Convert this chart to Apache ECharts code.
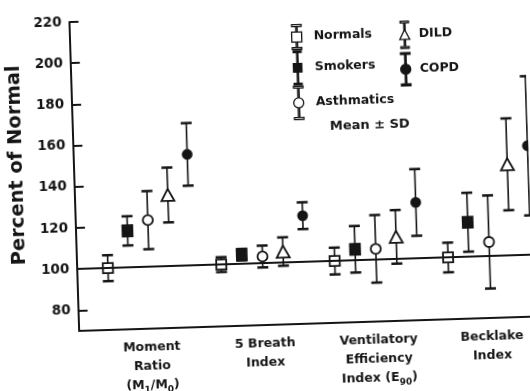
<!DOCTYPE html>
<html>
<head>
<meta charset="utf-8">
<script src="https://cdn.jsdelivr.net/npm/echarts@6/dist/echarts.min.js"></script>
<style>
html,body{margin:0;padding:0;background:#fff;overflow:hidden;}
#chart{width:530px;height:391px;transform:rotate(-1.8deg);}
</style>
</head>
<body>
<div id="chart"></div>
<script>
// categories along the x axis ({s|..} = subscript)
var categories = ['Moment\nRatio\n(M{s|1}/M{s|0})', '5 Breath\nIndex', 'Ventilatory\nEfficiency\nIndex (E{s|90})', 'Becklake\nIndex'];
var groups = ['Normals', 'Smokers', 'Asthmatics', 'DILD', 'COPD'];
// mean and SD, percent of normal
var normalsMean    = [100, 100, 100, 100];
var normalsSD      = [6.3, 3.6, 6.5, 7.2];
var smokersMean    = [117.8, 104.5, 105.4, 116.8];
var smokersSD      = [7.1, 2.8, 11.3, 14.3];
var asthmaticsMean = [122.7, 103.3, 105.3, 106.9];
var asthmaticsSD   = [14.1, 5.3, 16.4, 22.6];
var dildMean       = [134.6, 105.4, 110.8, 144.3];
var dildSD         = [13.3, 6.9, 13, 22.3];
var copdMean       = [154, 122.5, 127.2, 153];
var copdSD         = [15.2, 6.5, 16.2, 33.8];
var yTicks = [80, 100, 120, 140, 160, 180, 200, 220];
var refValue = 100;

var means = [normalsMean, smokersMean, asthmaticsMean, dildMean, copdMean];
var sds   = [normalsSD, smokersSD, asthmaticsSD, dildSD, copdSD];

var STEP = 0.1825; // offset between groups inside one category
var X_MIN = -0.27, X_MAX = 3.74;
var FONT = 'DejaVu Sans';
var INK = '#151515';

var styles = [
	{symbol: 'rect', size: [10, 10], fill: '#fff', icon: 'sq', iconH: 21},
	{symbol: 'rect', size: [10, 11], fill: INK, icon: 'sq', iconH: 34},
	{symbol: 'circle', size: 10, fill: '#fff', icon: 'ci', iconH: 28},
	{symbol: 'triangle', size: [13, 12], fill: '#fff', icon: 'tr', iconH: 26},
	{symbol: 'circle', size: 9, fill: INK, icon: 'ci', iconH: 28}
];

// legend icon: marker with its SD whiskers, 10 wide and h tall
function makeIcon(kind, h){
	var c = h / 2;
	function whisk(a, b){ return 'M4.4,' + a + 'H5.6V' + b + 'H4.4Z '; }
	var p = 'M1,0H9V1.6H1Z M1,' + (h - 1.6) + 'H9V' + h + 'H1Z ';
	if (kind === 'sq') {
		p += whisk(1.6, c - 4.2) + 'M0.8,' + (c - 4.2) + 'H9.2V' + (c + 4.2) + 'H0.8Z ' + whisk(c + 4.2, h - 1.6);
	} else if (kind === 'ci') {
		p += whisk(1.6, c - 4.2) + 'M9.2,' + c + 'A4.2,4.2,0,1,1,0.8,' + c + 'A4.2,4.2,0,1,1,9.2,' + c + 'Z ' + whisk(c + 4.2, h - 1.6);
	} else {
		p += whisk(1.6, c - 5) + 'M5,' + (c - 5) + 'L9.8,' + (c + 4.5) + 'H0.2Z ' + whisk(c + 4.5, h - 1.6);
	}
	return 'path://' + p;
}

function xPos(cat, grp){ return cat + grp * STEP; }

var barData = [];
var series = [];
groups.forEach(function(name, gi){
	var pts = [];
	means[gi].forEach(function(m, ci){
		var x = xPos(ci, gi);
		pts.push([x, m]);
		barData.push([x, m - sds[gi][ci], m + sds[gi][ci]]);
	});
	series.push({
		name: name,
		type: 'scatter',
		z: 3,
		symbol: styles[gi].symbol,
		symbolSize: styles[gi].size,
		itemStyle: {color: styles[gi].fill, borderColor: INK, borderWidth: 1.8, opacity: 1},
		data: pts
	});
});

function renderBar(params, api){
	var x = api.value(0);
	var top = api.coord([x, api.value(2)]);
	var bot = api.coord([x, api.value(1)]);
	var hw = 5.5;
	return {
		type: 'group',
		children: [
			{type: 'line', shape: {x1: top[0], y1: top[1], x2: bot[0], y2: bot[1]}, style: {stroke: INK, lineWidth: 1.6}},
			{type: 'line', shape: {x1: top[0] - hw, y1: top[1], x2: top[0] + hw, y2: top[1]}, style: {stroke: INK, lineWidth: 2.5}},
			{type: 'line', shape: {x1: bot[0] - hw, y1: bot[1], x2: bot[0] + hw, y2: bot[1]}, style: {stroke: INK, lineWidth: 2.5}}
		]
	};
}

series.unshift({
	name: 'SD',
	type: 'custom',
	z: 2,
	renderItem: renderBar,
	encode: {x: 0, y: [1, 2]},
	data: barData,
	markLine: {
		silent: true,
		symbol: ['none', 'none'],
		label: {show: false},
		lineStyle: {color: INK, width: 2, type: 'solid'},
		data: [{yAxis: refValue}]
	}
});

var labelValues = categories.map(function(c, i){ return xPos(i, 2); });

function legendItems(names){
	return names.map(function(n){
		var s = styles[groups.indexOf(n)];
		return {name: n, icon: makeIcon(s.icon, s.iconH), itemStyle: {color: s.fill, borderColor: INK, borderWidth: 1.3}};
	});
}
var legendText = {fontFamily: FONT, fontWeight: 'bold', fontSize: 12.5, color: INK};

var myChart = echarts.init(document.getElementById('chart'));
option = {
	backgroundColor: '#fff',
	animation: false,
	title: {
		text: 'Mean ± SD',
		left: 332,
		top: 122,
		padding: 0,
		textStyle: {fontFamily: FONT, fontWeight: 'bold', fontSize: 13, color: INK}
	},
	legend: [
		{
			data: legendItems(['Normals', 'Smokers', 'Asthmatics']),
			orient: 'vertical',
			left: 291, top: 20,
			itemWidth: 10, itemHeight: 34, itemGap: 0,
			selectedMode: false,
			textStyle: Object.assign({padding: [0, 0, 0, 7]}, legendText)
		},
		{
			data: legendItems(['DILD', 'COPD']),
			orient: 'vertical',
			left: 399, top: 20,
			itemWidth: 10, itemHeight: 34, itemGap: 3,
			selectedMode: false,
			textStyle: Object.assign({padding: [0, 0, 0, 4]}, legendText)
		}
	],
	grid: {left: 74, top: 16, bottom: 66, right: 0},
	xAxis: {
		type: 'value',
		min: X_MIN,
		max: X_MAX,
		splitLine: {show: false},
		axisTick: {show: false},
		axisLine: {show: true, onZero: false, lineStyle: {color: INK, width: 2}},
		axisLabel: {
			customValues: labelValues,
			formatter: function(v){
				var i = labelValues.indexOf(v);
				return i < 0 ? '' : categories[i];
			},
			margin: 9,
			lineHeight: 19,
			fontFamily: FONT, fontWeight: 'bold', fontSize: 12.5, color: INK,
			rich: {s: {fontFamily: FONT, fontWeight: 'bold', fontSize: 9, color: INK, verticalAlign: 'bottom', lineHeight: 19, padding: [6, 0, 0, 0]}}
		}
	},
	yAxis: {
		type: 'value',
		min: 70,
		max: 220,
		name: 'Percent of Normal',
		nameLocation: 'middle',
		nameGap: 36,
		nameTextStyle: {fontFamily: FONT, fontWeight: 'bold', fontSize: 19.5, color: INK, padding: [0, 0, 0, 26]},
		splitLine: {show: false},
		axisLine: {show: true, onZero: false, lineStyle: {color: INK, width: 2}},
		axisTick: {show: true, inside: true, length: 9, customValues: yTicks, lineStyle: {color: INK, width: 2}},
		axisLabel: {customValues: yTicks, margin: 8, fontFamily: FONT, fontWeight: 'bold', fontSize: 13.5, color: INK}
	},
	series: series
};
myChart.setOption(option);
</script>
</body>
</html>
